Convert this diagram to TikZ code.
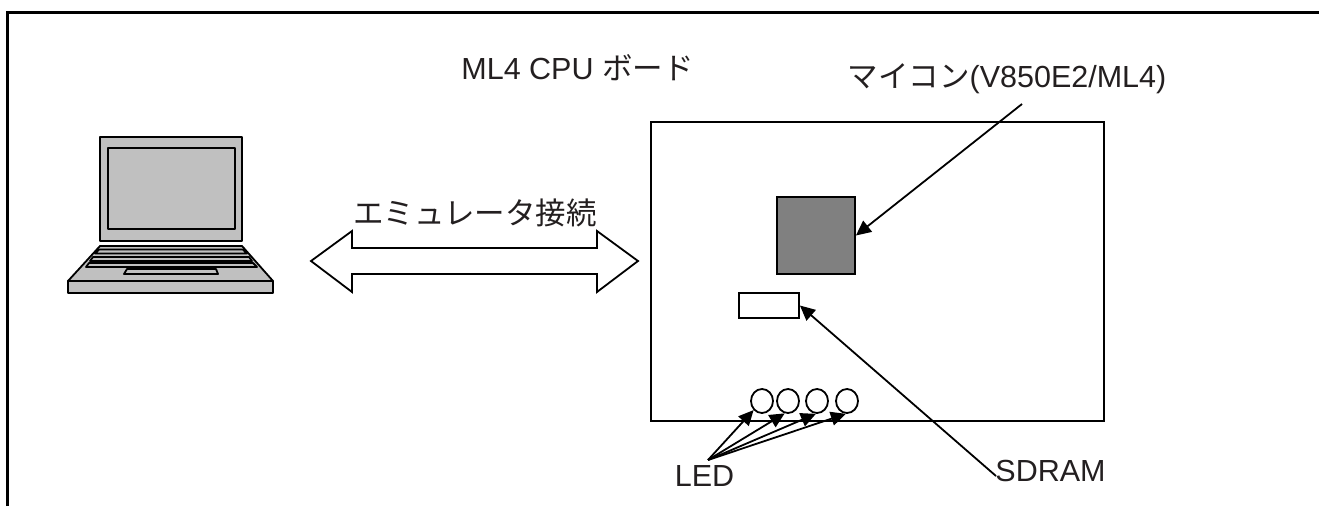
\documentclass[tikz,border=0pt]{standalone}
\usepackage{fontspec}
\setmainfont{Liberation Sans}
\newfontfamily\cjk{Noto Sans CJK JP}
\usetikzlibrary{arrows.meta,shapes.geometric}
\definecolor{pcgray}{HTML}{C0C0C0}
\definecolor{chipgray}{HTML}{808080}
\definecolor{labelblack}{HTML}{231F20}
\tikzset{
    lbl/.style={inner sep=0pt, anchor=base, text=labelblack, font=\fontsize{30.5}{36}\selectfont},
    pc/.style={draw, line width=1.8pt, fill=pcgray, line join=round},
    ptr/.style={-{Stealth[inset=0pt, length=15pt, width=14pt]}, line width=1.8pt},
    led/.style={draw, line width=1.8pt, fill=white, ellipse, minimum width=22pt, minimum height=24pt, inner sep=0pt}
}
\begin{document}
\begin{tikzpicture}[x=1pt, y=-1pt]
\useasboundingbox (0,0) rectangle (1319,506);
% outer frame
\draw[line width=3pt](7.5,506)--(7.5,12.5)--(1319,12.5);
% laptop
\draw[pc](100,137)rectangle(242,241);
\draw[pc](108,148)rectangle(235,229);
\draw[pc](100,246)--(242,246)--(273,281)--(68,281)--cycle;
\draw[pc](68,281)rectangle(273,293);
\draw[pc](99,249.5)--(243,249.5)--(247,253.5)--(95,253.5)--cycle;
\draw[pc](93,257)--(249,257)--(252,261)--(90,261)--cycle;
\draw[pc](89,263)--(253,263)--(257,267)--(86,267)--cycle;
\draw[pc](127,269)--(216,269)--(218,274)--(124,274)--cycle;
% connection
\draw[line width=1.8pt, line join=miter](311,261)--(352,231)--(352,248)--(597,248)--(597,231)--(638,261)--(597,292)--(597,274)--(352,274)--(352,292)--cycle;
\node[lbl] (link) at (475,224){\cjk エミュレータ接続};
% board
\draw[line width=1.8pt](651,122)rectangle(1104,421);
\node[draw, line width=1.8pt, fill=chipgray, minimum width=78pt, minimum height=77pt, inner sep=0pt] (chip) at (816,235.5){};
\node[draw, line width=1.8pt, fill=white, minimum width=60pt, minimum height=25pt, inner sep=0pt] (sdram) at (769,305.5){};
\node[led] (led1) at (762,401){};
\node[led] (led2) at (788,401){};
\node[led] (led3) at (817,401){};
\node[led] (led4) at (847,401){};
% labels
\node[lbl] (title) at (577.5,79){ML4 CPU {\cjk ボード}};
\node[lbl] (mcu) at (1007,87){{\cjk マイコン}(V850E2/ML4)};
\node[lbl] (sdramlbl) at (1050.5,481){SDRAM};
\node[lbl] (ledlbl) at (704.5,486){LED};
% arrows
\coordinate (mcutail) at (1022,104);
\coordinate (sdramtail) at (996,476);
\coordinate (ledtail) at (708,460);
\draw[ptr](mcutail)--(chip.east);
\draw[ptr](sdramtail)--(sdram.east);
\draw[ptr](ledtail)--(led1.south west);
\draw[ptr](ledtail)--(led2.255);
\foreach \n in {3,4}
    \draw[ptr](ledtail)--(led\n.265);
\end{tikzpicture}
\end{document}
